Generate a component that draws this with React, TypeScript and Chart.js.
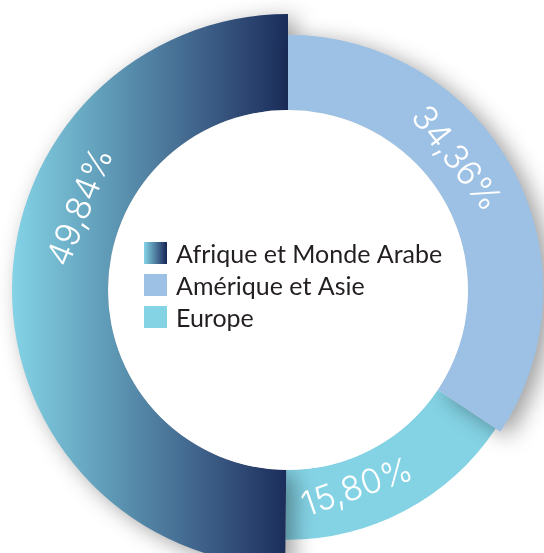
import { useEffect, useRef } from 'react';
import { Chart, registerables } from 'chart.js';

Chart.register(...registerables);

// ---- data ----
const categories = ['Afrique et Monde Arabe', 'Amérique et Asie', 'Europe'];
const shares = [49.84, 34.36, 15.8];
const shareLabels = ['49,84%', '34,36%', '15,80%'];

// ---- styles ----
const OUTER = 276;
const CUTOUT = '65.2%';
const radiusScale = [1, 0.925, 0.905];
const labelFrac = [0.62, 0.42, 0.65];
const drawOrder = [2, 0, 1];
const castsShadow = [true, true, false];
const AFRIQUE_STOPS: [number, string][] = [
  [0, '#84d3e6'],
  [0.35, '#5f9ab6'],
  [0.7, '#3d5f88'],
  [1, '#1b2d5a'],
];
const AMERIQUE = '#9dc1e4';
const EUROPE = '#84d3e5';

function afriqueGradient(ctx: CanvasRenderingContext2D, x0: number, x1: number) {
  const g = ctx.createLinearGradient(x0, 0, x1, 0);
  AFRIQUE_STOPS.forEach(([t, c]) => g.addColorStop(t, c));
  return g;
}

const layerPlugin = {
  id: 'layers',
  afterDatasetUpdate(chart: any, args: any) {
    const meta = args.meta;
    meta.data.forEach((el: any, i: number) => {
      el.outerRadius = el.outerRadius * radiusScale[i];
    });
  },
  beforeDatasetDraw(chart: any, args: any) {
    const ctx = chart.ctx;
    const meta = args.meta;
    drawOrder.forEach((i) => {
      const el = meta.data[i];
      if (!el) return;
      ctx.save();
      if (castsShadow[i]) {
        ctx.shadowColor = 'rgba(0,0,0,0.38)';
        ctx.shadowBlur = 22;
        ctx.shadowOffsetX = 8;
        ctx.shadowOffsetY = 5;
      }
      el.draw(ctx, chart.chartArea);
      ctx.restore();
    });
    // white hole on top of shadows
    const el0 = meta.data[0];
    ctx.save();
    ctx.fillStyle = '#ffffff';
    ctx.beginPath();
    ctx.arc(el0.x, el0.y, el0.innerRadius, 0, Math.PI * 2);
    ctx.fill();
    ctx.restore();

    // percentage labels
    meta.data.forEach((el: any, i: number) => {
      const a = el.startAngle + (el.endAngle - el.startAngle) * labelFrac[i];
      const r = (el.innerRadius + el.outerRadius) / 2 - 5;
      const x = el.x + r * Math.cos(a);
      const y = el.y + r * Math.sin(a);
      let rot = a + Math.PI / 2;
      if (Math.cos(rot) < 0) rot -= Math.PI;
      ctx.save();
      ctx.translate(x, y);
      ctx.rotate(rot);
      ctx.fillStyle = '#ffffff';
      ctx.font = '300 34px Inter, Lato, sans-serif';
      ctx.textAlign = 'center';
      ctx.textBaseline = 'middle';
      ctx.fillText(shareLabels[i], 0, 0);
      ctx.restore();
    });

    // legend in the hole
    const cx = el0.x;
    const cy = el0.y;
    const sw = 22;
    const rowH = 32;
    const firstBase = cy - 27;
    const colors = [null, AMERIQUE, EUROPE];
    categories.forEach((lab, i) => {
      const base = firstBase + i * rowH;
      const sx = cx - 144;
      const sy = base - 21;
      ctx.save();
      ctx.fillStyle = i === 0 ? afriqueGradient(ctx, sx, sx + sw) : (colors[i] as string);
      ctx.fillRect(sx, sy, sw + 1, sw);
      ctx.fillStyle = '#231f20';
      ctx.font = '400 25px Lato, sans-serif';
      ctx.textAlign = 'left';
      ctx.textBaseline = 'alphabetic';
      ctx.fillText(lab, cx - 112, base);
      ctx.restore();
    });
    return false;
  },
};

export default function App() {
  const ref = useRef<HTMLCanvasElement | null>(null);
  useEffect(() => {
    if (!ref.current) return;
    const total = shares.reduce((s, v) => s + v, 0);
    const rotation = 360 - (shares[0] / total) * 360;
    const chart = new Chart(ref.current, {
      type: 'doughnut',
      data: {
        labels: categories,
        datasets: [
          {
            data: shares,
            borderWidth: 0,
            hoverOffset: 0,
            clip: false as any,
            backgroundColor: (c: any) => {
              const i = c.dataIndex;
              if (i === 1) return AMERIQUE;
              if (i === 2) return EUROPE;
              const ca = c.chart.chartArea;
              if (!ca) return '#3d5f88';
              const cx = (ca.left + ca.right) / 2;
              return afriqueGradient(c.chart.ctx, cx - OUTER, cx);
            },
          },
        ],
      },
      options: {
        responsive: false,
        animation: false,
        radius: OUTER,
        cutout: CUTOUT,
        rotation,
        layout: { padding: { left: 32, right: 0, top: 27, bottom: 0 } },
        plugins: {
          legend: { display: false },
          tooltip: { enabled: false },
        },
        events: [],
      } as any,
      plugins: [layerPlugin],
    });
    return () => chart.destroy();
  }, []);
  return (
    <div style={{ position: 'absolute', left: 0, top: 0, width: 544, height: 553, background: '#fff' }}>
      <canvas ref={ref} width={544} height={553} style={{ display: 'block' }} />
    </div>
  );
}
